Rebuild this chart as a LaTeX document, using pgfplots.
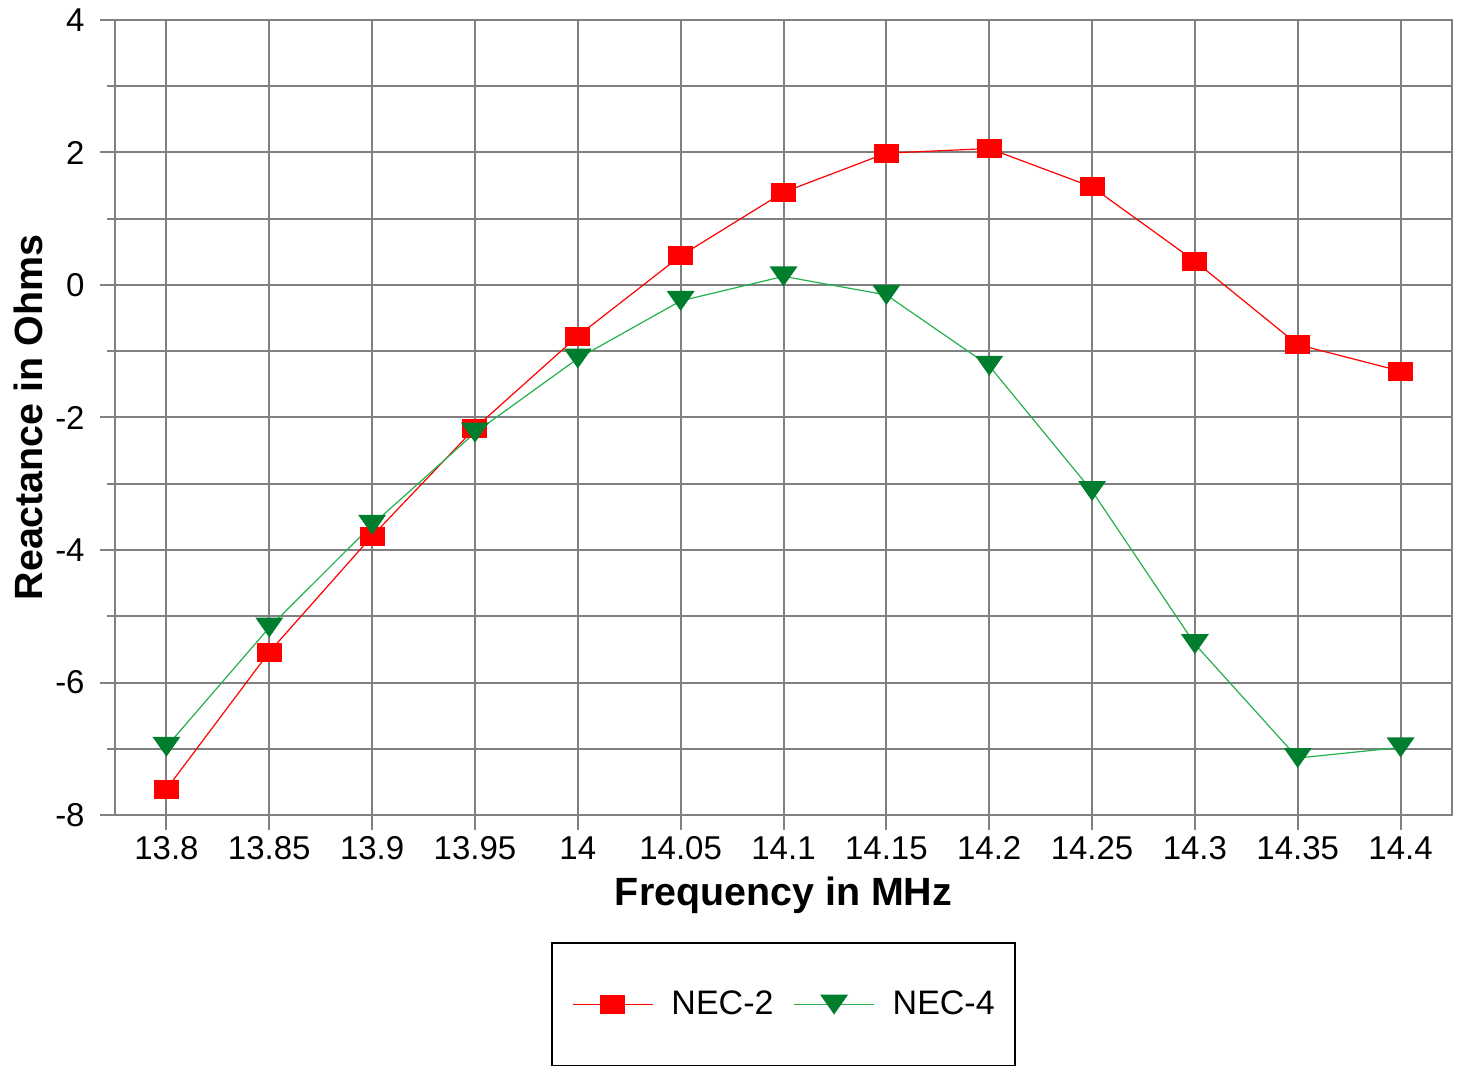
\documentclass[border=0pt]{standalone}
\usepackage{fontspec}
\setmainfont{Liberation Sans}
\usepackage{pgfplots}
\pgfplotsset{compat=1.18}
\definecolor{gridgray}{RGB}{128,128,128}
\definecolor{necred}{RGB}{255,0,0}
\definecolor{necgreen}{RGB}{34,177,76}
\definecolor{necdkgreen}{RGB}{0,125,45}
\pgfdeclareplotmark{rect}{\pgfpathrectangle{\pgfqpoint{-6.25pt}{-4.75pt}}{\pgfqpoint{12.5pt}{9.5pt}}\pgfusepathqfill}
\pgfdeclareplotmark{dtri}{\pgfpathmoveto{\pgfqpoint{-7pt}{5pt}}\pgfpathlineto{\pgfqpoint{7pt}{5pt}}\pgfpathlineto{\pgfqpoint{0pt}{-5pt}}\pgfpathclose\pgfusepathqfill}
\begin{document}
\begin{tikzpicture}
\begin{axis}[
  scale only axis,
  width=668.5pt, height=397.5pt,
  xmin=-0.5, xmax=12.5, ymin=-8, ymax=4,
  xtick={0,...,12},
  xticklabels={13.8,13.85,13.9,13.95,14,14.05,14.1,14.15,14.2,14.25,14.3,14.35,14.4},
  ytick={-8,-6,-4,-2,0,2,4},
  yticklabels={-8,-6,-4,-2,0,2,4},
  minor ytick={-7,-5,-3,-1,1,3},
  xmajorgrids, ymajorgrids, yminorgrids,
  grid style={gridgray, line width=1pt},
  minor grid style={gridgray, line width=1pt},
  axis line style={gridgray, line width=1pt},
  tick style={gridgray, line width=1pt},
  tick align=outside,
  major tick length=7.5pt, minor tick length=4pt,
  xtick pos=left, ytick pos=left,
  ticklabel style={font=\fontsize{16.5}{18}\selectfont, inner sep=0pt},
  xticklabel style={yshift=-3pt},
  yticklabel style={xshift=-7.5pt},
  xlabel={Frequency in MHz},
  ylabel={Reactance in Ohms},
  label style={font=\fontsize{19.7}{22}\selectfont\bfseries},
  xlabel style={at={(axis description cs:0.5,0)}, anchor=center, yshift=-40pt},
  ylabel style={at={(axis description cs:-0.06507,0.5)}, anchor=center},
  legend columns=2,
  legend style={at={(axis description cs:0.5,-0.16)}, anchor=north,
    draw=black, line width=1pt, inner xsep=10pt, inner ysep=24pt,
    font=\fontsize{17}{19}\selectfont,
    nodes={inner sep=0pt},
    column sep=9pt,
    /tikz/column 2/.style={column sep=10pt}},
  legend image code/.code={\draw[#1, mark repeat=2, mark phase=2] plot coordinates {(0pt,0pt) (20pt,0pt) (40pt,0pt)};},
]
\addplot[color=necred, line width=0.6pt, mark=rect, mark options={fill=necred, draw=none}]
coordinates {(0,-7.61) (1,-5.54) (2,-3.79) (3,-2.16) (4,-0.77) (5,0.44) (6,1.40) (7,1.99) (8,2.06) (9,1.48) (10,0.36) (11,-0.90) (12,-1.30)};
\addlegendentry{NEC-2}
\addplot[color=necgreen, line width=0.6pt, mark=dtri, mark options={fill=necdkgreen, draw=none}]
coordinates {(0,-6.97) (1,-5.17) (2,-3.62) (3,-2.23) (4,-1.11) (5,-0.24) (6,0.13) (7,-0.15) (8,-1.22) (9,-3.11) (10,-5.42) (11,-7.14) (12,-6.98)};
\addlegendentry{NEC-4}
\end{axis}
\pgfresetboundingbox
\path (-57.5pt,-125pt) rectangle (675pt,407.5pt);
\end{tikzpicture}
\end{document}
